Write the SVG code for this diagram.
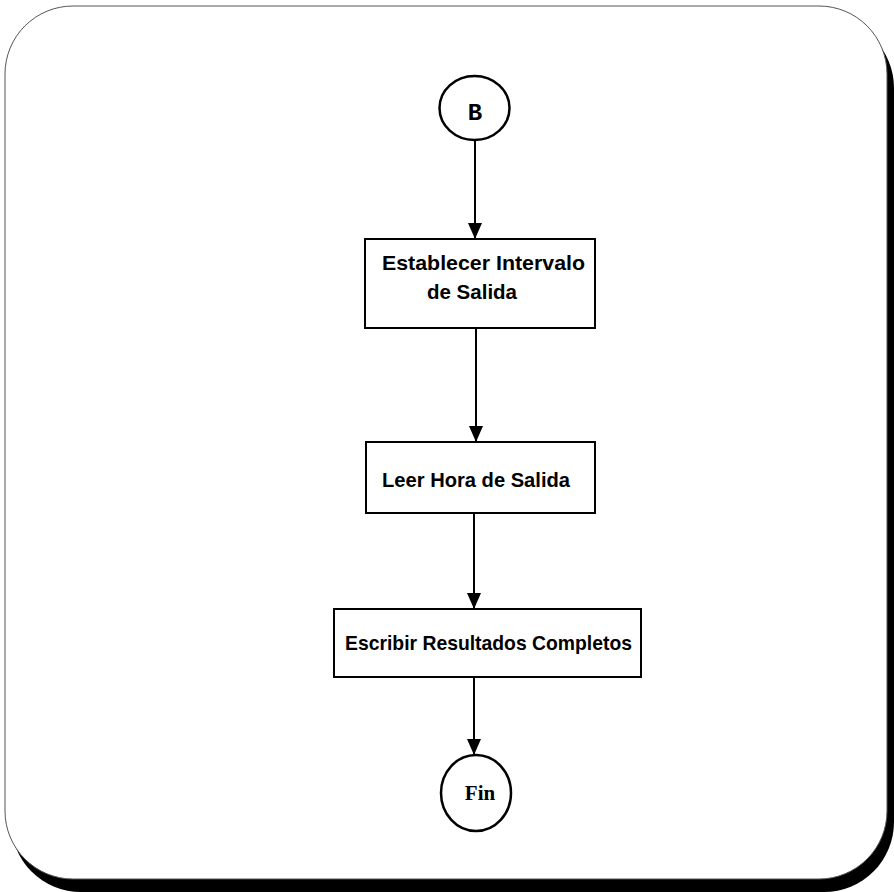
<svg xmlns="http://www.w3.org/2000/svg" width="894" height="892" viewBox="0 0 894 892">
  <style>
    .box { fill: #ffffff; stroke: #000000; stroke-width: 2; }
    .term { fill: #ffffff; stroke: #000000; stroke-width: 2.5; }
    .lbl { font-family: "Liberation Sans", Arial, sans-serif; font-weight: bold; font-size: 21px; fill: #000000; }
    .term-lbl { font-family: "Liberation Serif", "Times New Roman", serif; font-weight: bold; font-size: 21px; fill: #000000; text-anchor: middle; }
    .mono { font-family: "Liberation Mono", "Courier New", monospace; font-size: 24px; }
    .conn { stroke: #000000; stroke-width: 2; fill: none; }
  </style>
  <defs>
    <marker id="arrow" viewBox="0 0 16 14" refX="16" refY="7" markerWidth="16" markerHeight="14" markerUnits="userSpaceOnUse" orient="auto">
      <path d="M0,0 L16,7 L0,14 Z" fill="#000000"/>
    </marker>
  </defs>
  <rect width="894" height="892" fill="#ffffff"/>
  <g id="frame">
    <rect x="11" y="18" width="883" height="874" rx="70" ry="70" fill="#000000"/>
    <rect x="5" y="6" width="882" height="873" rx="68" ry="68" fill="#ffffff" stroke="#555555" stroke-width="1"/>
  </g>
  <g id="connectors">
    <line class="conn" x1="475" y1="140" x2="475" y2="239" marker-end="url(#arrow)"/>
    <line class="conn" x1="476" y1="328" x2="476" y2="442" marker-end="url(#arrow)"/>
    <line class="conn" x1="474" y1="513" x2="474" y2="609" marker-end="url(#arrow)"/>
    <line class="conn" x1="474" y1="677" x2="474" y2="755" marker-end="url(#arrow)"/>
  </g>
  <g id="node-b">
    <ellipse class="term" cx="474.5" cy="108" rx="35" ry="32"/>
    <text class="term-lbl mono" x="475" y="120">B</text>
  </g>
  <g id="node-establecer">
    <rect class="box" x="365" y="239" width="230" height="89"/>
    <text class="lbl" x="382" y="270" textLength="203" lengthAdjust="spacingAndGlyphs">Establecer Intervalo</text>
    <text class="lbl" x="427" y="299" textLength="90" lengthAdjust="spacingAndGlyphs">de Salida</text>
  </g>
  <g id="node-leer">
    <rect class="box" x="366" y="442" width="229" height="71"/>
    <text class="lbl" x="382" y="487" textLength="188" lengthAdjust="spacingAndGlyphs">Leer Hora de Salida</text>
  </g>
  <g id="node-escribir">
    <rect class="box" x="334" y="609" width="307" height="68"/>
    <text class="lbl" x="345" y="650" textLength="287" lengthAdjust="spacingAndGlyphs">Escribir Resultados Completos</text>
  </g>
  <g id="node-fin">
    <ellipse class="term" cx="476" cy="793" rx="35" ry="38"/>
    <text class="term-lbl" x="480" y="800">Fin</text>
  </g>
</svg>
